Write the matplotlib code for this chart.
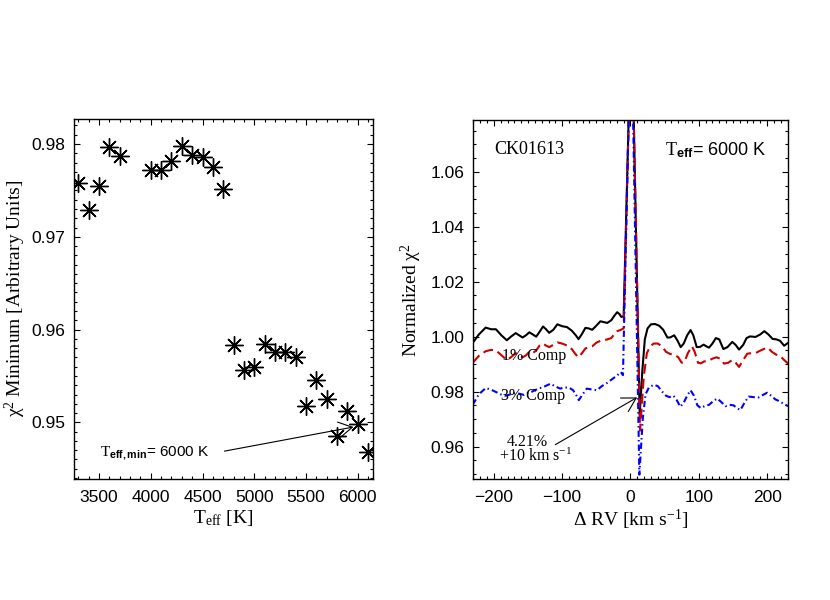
import numpy as np
import matplotlib.pyplot as plt
from matplotlib.ticker import MultipleLocator

plt.rcParams['font.family'] = 'Liberation Sans'
plt.rcParams['mathtext.fontset'] = 'custom'
plt.rcParams['mathtext.rm'] = 'Liberation Serif'
plt.rcParams['mathtext.it'] = 'Liberation Serif:italic'
plt.rcParams['mathtext.bf'] = 'Liberation Sans:bold'

# left panel: chi2 minimum for each template Teff
teff = [3300, 3400, 3500, 3600, 3700, 4000, 4100, 4200, 4300, 4400, 4500, 4600, 4700,
        4800, 4900, 5000, 5100, 5200, 5300, 5400, 5500, 5600, 5700, 5800, 5900, 6000, 6100]
chi2_min = [0.97579, 0.97291, 0.97543, 0.97964, 0.97867, 0.97716, 0.97723, 0.97813,
            0.97974, 0.97885, 0.97860, 0.97752, 0.97515, 0.95837, 0.95568, 0.95597,
            0.95848, 0.95754, 0.95754, 0.95705, 0.95180, 0.95453, 0.95255, 0.94857,
            0.95119, 0.94983, 0.94681]

# right panel: normalized chi2 vs delta RV
rv_best = [-231, -222, -212, -204, -197, -189, -181, -175, -168, -163, -158, -153, -148,
           -143, -138, -133, -128, -124, -119, -113, -107, -100, -93, -86, -80, -76, -71,
           -66, -61, -56, -50, -44, -39, -34, -28, -24, -19.5, -16, -13.5, -10, 1.5, 13.5,
           17.5, 21, 25, 30, 36, 42, 48, 54, 58, 64, 69, 73.5, 78, 83, 88, 92, 97, 102,
           107, 111, 115, 120, 125, 130, 136, 142, 149, 154, 159, 165, 170, 175, 183, 190,
           196, 202, 208, 214, 219, 225, 231]
chi2_best = [0.9977, 1.0008, 1.0033, 1.0027, 1.0027, 1.0005, 0.9987, 1.0000, 1.0013,
             1.0005, 0.9997, 1.0005, 1.0016, 1.0008, 1.0000, 1.0018, 1.0037, 1.0028,
             1.0014, 1.0025, 1.0045, 1.0038, 1.0035, 1.0022, 1.0005, 0.9991, 1.0010,
             1.0032, 1.0030, 1.0025, 1.0040, 1.0056, 1.0053, 1.0050, 1.0060, 1.0075,
             1.0089, 1.0082, 1.0072, 1.0074, 1.1200, 0.9716, 0.9880, 0.9990, 1.0030,
             1.0045, 1.0046, 1.0040, 1.0025, 0.9997, 0.9997, 1.0005, 0.9985, 0.9962,
             0.9975, 1.0005, 1.0024, 1.0005, 0.9962, 0.9963, 0.9971, 0.9965, 0.9960,
             0.9975, 0.9995, 0.9990, 0.9955, 0.9962, 0.9981, 0.9970, 0.9953, 0.9970,
             0.9995, 1.0001, 0.9999, 1.0008, 1.0020, 1.0008, 0.9992, 0.9990, 0.9985,
             0.9967, 0.9978]

rv_1pct = [-231, -222, -212, -204, -197, -190, -181, -175, -168, -163, -158, -153, -148,
           -143, -138, -133, -128, -124, -119, -113, -107, -100, -93, -86, -80, -76, -71,
           -66, -61, -56, -50, -44, -39, -34, -28, -24, -19.5, -15, -10, 1.5, 14, 19.5,
           24, 29, 34, 40, 46, 52, 58, 64, 70, 75, 79, 84, 90, 94, 99, 103, 108, 114, 120,
           126, 131, 137, 143, 149, 154, 159, 165, 171, 177, 183, 189, 195, 201, 207, 213,
           219, 225, 231]
chi2_1pct = [0.9905, 0.9930, 0.9947, 0.9952, 0.9950, 0.9935, 0.9915, 0.9925, 0.9940,
             0.9932, 0.9925, 0.9932, 0.9945, 0.9940, 0.9950, 0.9968, 0.9975, 0.9968,
             0.9962, 0.9970, 0.9979, 0.9975, 0.9968, 0.9955, 0.9935, 0.9925, 0.9940,
             0.9957, 0.9962, 0.9965, 0.9978, 0.9985, 0.9987, 0.9990, 0.9995, 1.0008,
             1.0020, 1.0024, 1.0030, 1.1200, 0.9658, 0.9855, 0.9940, 0.9965, 0.9975,
             0.9975, 0.9965, 0.9945, 0.9937, 0.9935, 0.9925, 0.9905, 0.9908, 0.9940,
             0.9965, 0.9945, 0.9905, 0.9903, 0.9910, 0.9912, 0.9920, 0.9925, 0.9920,
             0.9902, 0.9905, 0.9915, 0.9905, 0.9890, 0.9915, 0.9938, 0.9940, 0.9940,
             0.9948, 0.9955, 0.9960, 0.9945, 0.9935, 0.9930, 0.9915, 0.9902]

rv_3pct = [-231, -222, -212, -205, -198, -190, -183, -176, -168, -162, -156, -150, -144,
           -139, -134, -129, -123, -117, -111, -103, -97, -90, -84, -79, -75.7, -70, -64,
           -57, -49, -42, -34, -27, -19.5, -14, -11, 1.0, 13, 18, 22, 27, 34, 40, 46, 52,
           57, 63, 68, 73, 78, 83, 88, 93, 98, 103, 109, 115, 121, 127, 133, 139, 145, 151,
           156, 161, 167, 173, 180, 188, 194, 200, 206, 212, 218, 225, 231]
chi2_3pct = [0.9752, 0.9790, 0.9813, 0.9808, 0.9800, 0.9790, 0.9785, 0.9790, 0.9795,
             0.9792, 0.9788, 0.9795, 0.9800, 0.9806, 0.9812, 0.9815, 0.9822, 0.9829,
             0.9820, 0.9811, 0.9815, 0.9815, 0.9805, 0.9785, 0.9769, 0.9790, 0.9811,
             0.9808, 0.9805, 0.9820, 0.9832, 0.9845, 0.9859, 0.9871, 0.9860, 1.1200,
             0.9498, 0.9700, 0.9790, 0.9815, 0.9825, 0.9820, 0.9801, 0.9785, 0.9780,
             0.9785, 0.9768, 0.9745, 0.9760, 0.9785, 0.9805, 0.9785, 0.9750, 0.9740,
             0.9748, 0.9752, 0.9765, 0.9775, 0.9762, 0.9747, 0.9752, 0.9750, 0.9740,
             0.9733, 0.9760, 0.9782, 0.9780, 0.9779, 0.9788, 0.9796, 0.9785, 0.9772,
             0.9765, 0.9755, 0.9747]

serif = 'Liberation Serif'
arrow_style = dict(arrowstyle='->,head_length=0.98,head_width=0.56', lw=0.8,
                   color='k', shrinkA=0, shrinkB=0, mutation_scale=10)


def idl_axes(ax):
    for sp in ax.spines.values():
        sp.set_linewidth(1.0)
    ax.tick_params(which='both', direction='in', top=True, right=True,
                   width=0.8, labelsize=12.5)
    ax.tick_params(which='major', length=4.5)
    ax.tick_params(which='minor', length=2.2)
    ax.tick_params(axis='x', pad=8)
    ax.tick_params(axis='y', pad=6)


fig = plt.figure(figsize=(8.3, 6), dpi=100)

# ---- left panel
ax1 = fig.add_axes([0.0892, 0.2017, 0.3602, 0.6])
ax1.plot(teff, chi2_min, linestyle='none', marker=(8, 2, 0), ms=13, mew=1.0, color='k')
ax1.set_xlim(3258, 6148)
ax1.set_ylim(0.9439, 0.9827)
ax1.xaxis.set_major_locator(MultipleLocator(500))
ax1.xaxis.set_minor_locator(MultipleLocator(100))
ax1.yaxis.set_major_locator(MultipleLocator(0.01))
ax1.yaxis.set_minor_locator(MultipleLocator(0.001))
ax1.yaxis.set_major_formatter(plt.FormatStrFormatter('%.2f'))
idl_axes(ax1)
ax1.set_xlabel(r'T$_{\rm eff}$ [K]', fontsize=14, family=serif, labelpad=2)
ax1.set_ylabel(r'χ$^2$ Minimum [Arbitrary Units]', fontsize=14, family=serif, labelpad=3)
ax1.text(3510, 0.9468, r'$\mathrm{T}_{\mathbf{eff,min}}$= 6000 K', fontsize=11,
         va='center', ha='left')
ax1.annotate('', xy=(5959, 0.9495), xytext=(4712, 0.9469), arrowprops=arrow_style)

# ---- right panel
ax2 = fig.add_axes([0.5695, 0.2012, 0.3802, 0.599])
ax2.plot(rv_best, chi2_best, color='k', lw=1.5)
ax2.plot(rv_1pct, chi2_1pct, color='#cc0000', lw=1.5, dashes=(4.8, 2.4))
ax2.plot(rv_3pct, chi2_3pct, color='#0000ff', lw=1.5, dashes=(3.0, 1.5, 0.7, 1.5))
ax2.set_xlim(-231, 231)
ax2.set_ylim(0.9481, 1.0789)
ax2.xaxis.set_major_locator(MultipleLocator(100))
ax2.xaxis.set_minor_locator(MultipleLocator(10))
ax2.yaxis.set_major_locator(MultipleLocator(0.02))
ax2.yaxis.set_minor_locator(MultipleLocator(0.005))
ax2.yaxis.set_major_formatter(plt.FormatStrFormatter('%.2f'))
idl_axes(ax2)
ax2.set_xlabel(r'Δ RV [km s$^{-1}$]', fontsize=14, family=serif, labelpad=2)
ax2.set_ylabel(r'Normalized χ$^2$', fontsize=14, family=serif, labelpad=5)
ax2.text(-199, 1.068, 'CK01613', fontsize=13, family=serif, va='center', ha='left')
ax2.text(51, 1.068, r'$\mathrm{T}_{\mathbf{eff}}$= 6000 K', fontsize=13,
         va='center', ha='left')
ax2.text(-188, 0.9928, '1% Comp', fontsize=11.5, family=serif, va='center', ha='left')
ax2.text(-189, 0.97825, '3% Comp', fontsize=11.5, family=serif, va='center', ha='left')
ax2.text(-151, 0.9618, '4.21%', fontsize=11.5, family=serif, va='center', ha='center')
ax2.text(-138.7, 0.9563, r'+10 km s$^{-1}$', fontsize=11.5, family=serif,
         va='center', ha='center')
ax2.annotate('', xy=(9.8, 0.9779), xytext=(-110, 0.9607), arrowprops=arrow_style)

fig.savefig('out.png', dpi=100)
